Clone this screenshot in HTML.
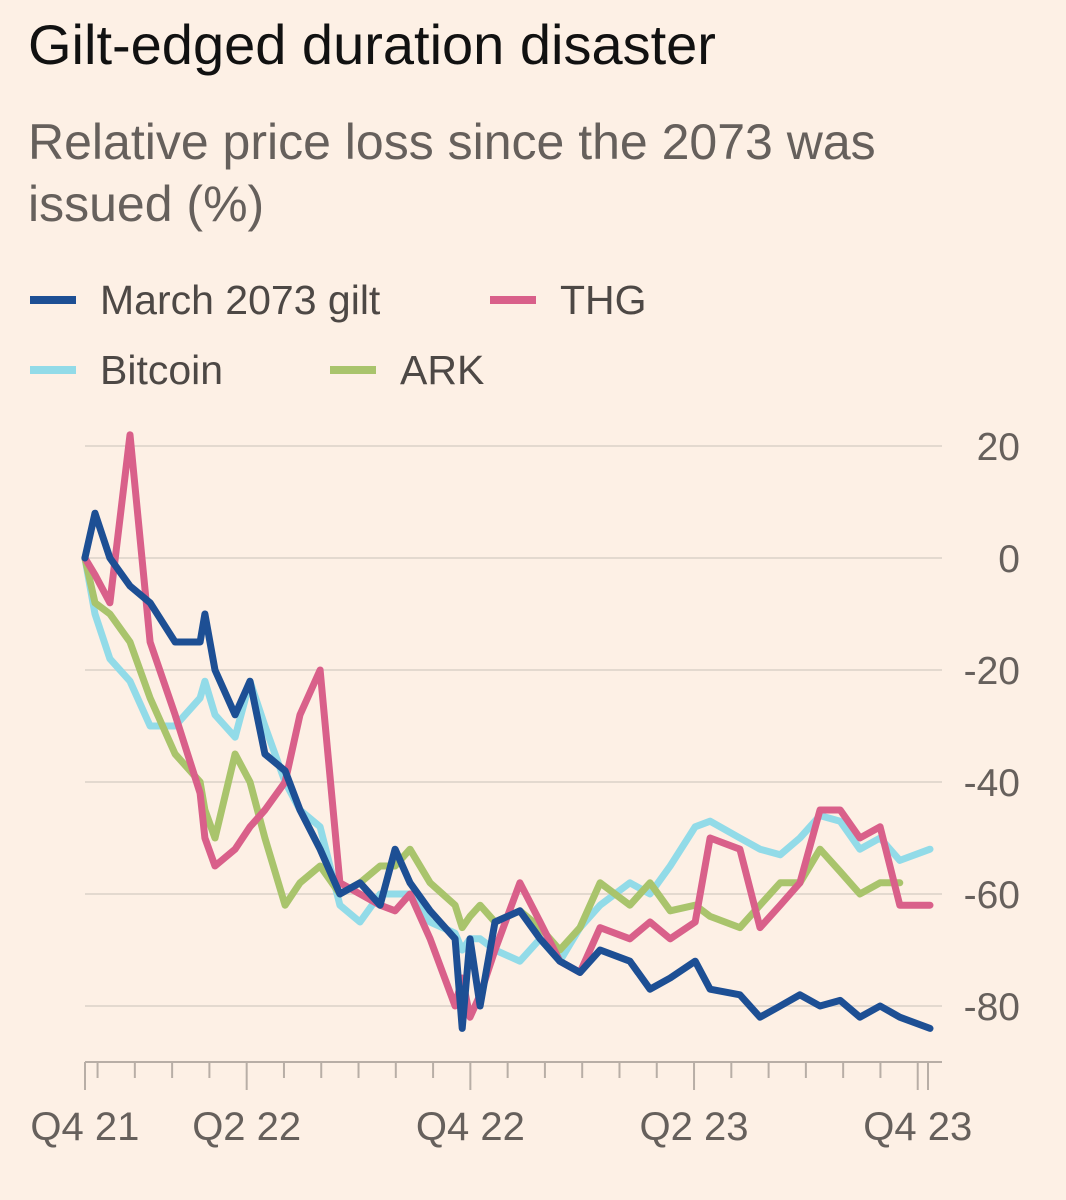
<!DOCTYPE html>
<html><head><meta charset="utf-8">
<style>
body{margin:0;background:#fdf0e5;width:1066px;height:1200px;overflow:hidden;font-family:"Liberation Sans",sans-serif;}
#title{position:absolute;left:28px;top:12px;font-size:56px;color:#111;white-space:nowrap;}
#sub{position:absolute;left:28px;top:111px;font-size:50px;line-height:62px;color:#66605c;width:1040px;}
svg{position:absolute;left:0;top:0;}
</style></head><body>
<div id="title">Gilt-edged duration disaster</div>
<div id="sub">Relative price loss since the 2073 was<br>issued (%)</div>
<svg id="chart" width="1066" height="1200"></svg>
<script>
// months since 1 Oct 2021
const dates=[1.66,1.93,2.33,2.87,3.41,4.08,4.75,4.88,5.15,5.69,6.09,6.49,7.03,7.43,7.97,8.5,9.04,9.58,9.98,10.38,10.92,11.59,11.78,11.99,12.26,12.66,13.33,13.87,14.4,14.94,15.48,16.28,16.82,17.36,18.03,18.43,19.23,19.77,20.31,20.84,21.38,21.92,22.45,22.99,23.52,24.33];
const gilt=[0,8,0,-5,-8,-15,-15,-10,-20,-28,-22,-35,-38,-45,-52,-60,-58,-62,-52,-58,-63,-68,-84,-68,-80,-65,-63,-68,-72,-74,-70,-72,-77,-75,-72,-77,-78,-82,-80,-78,-80,-79,-82,-80,-82,-84];
const thg=[0,-3,-8,22,-15,-28,-42,-50,-55,-52,-48,-45,-40,-28,-20,-58,-60,-62,-63,-60,-68,-80,-75,-82,-78,-70,-58,-65,-72,-74,-66,-68,-65,-68,-65,-50,-52,-66,-62,-58,-45,-45,-50,-48,-62,-62];
const bitcoin=[0,-10,-18,-22,-30,-30,-25,-22,-28,-32,-22,-30,-40,-45,-48,-62,-65,-60,-60,-60,-65,-67,-70,-68,-68,-70,-72,-68,-72,-66,-62,-58,-60,-55,-48,-47,-50,-52,-53,-50,-46,-47,-52,-50,-54,-52];
const ark=[0,-8,-10,-15,-25,-35,-40,-45,-50,-35,-40,-50,-62,-58,-55,-60,-58,-55,-55,-52,-58,-62,-66,-64,-62,-65,-63,-66,-70,-66,-58,-62,-58,-63,-62,-64,-66,-62,-58,-58,-52,-56,-60,-58,-58,null];
const yTicks=[20,0,-20,-40,-60,-80];
const xLabels=["Q4 21","Q2 22","Q4 22","Q2 23","Q4 23"];
const xLabelMonths=[1.66,6,12,18,24];
const NS="http://www.w3.org/2000/svg";
const svg=document.getElementById('chart');
const X=m=>23+m*37.28;
const Y=v=>558-v*5.6;
function el(t,a){const e=document.createElementNS(NS,t);for(const k in a)e.setAttribute(k,a[k]);svg.appendChild(e);return e;}
yTicks.forEach(v=>{
  const l=el('line',{x1:85,x2:942,y1:Y(v),y2:Y(v),stroke:'#e3d9cf','stroke-width':2});
  
  
  const t=el('text',{x:1020,y:Y(v)+14,'text-anchor':'end','font-size':39,fill:'#66605c'});
  t.textContent=v;
  
  
});
const ax=el('line',{x1:85,x2:942,y1:1062,y2:1062,stroke:'#b8aea6','stroke-width':2});


for(let m=2;m<=24;m++){
  const big=(m%6===0);
  const tk=el('line',{x1:X(m),x2:X(m),y1:1062,y2:big?1090:1078,stroke:'#b8aea6','stroke-width':2});
  
  
}
[[85,1090],[928,1090]].forEach(p=>{const tk=el('line',{x1:p[0],x2:p[0],y1:1062,y2:p[1],stroke:'#b8aea6','stroke-width':2});});
xLabels.forEach((s,i)=>{
  const t=el('text',{x:X(xLabelMonths[i]),y:1140,'text-anchor':'middle','font-size':40,fill:'#66605c'});
  t.textContent=s;
  
  
});
function line(vals,color,name){
  let d='';vals.forEach((v,i)=>{if(v===null)return;d+=(d?'L':'M')+X(dates[i]).toFixed(1)+','+Y(v).toFixed(1);});
  const p=el('path',{d:d,fill:'none',stroke:color,'stroke-width':7,'stroke-linejoin':'round','stroke-linecap':'round'});
  
  
}
line(bitcoin,'#92dbe8','series-bitcoin');
line(ark,'#a9c46c','series-ark');
line(thg,'#d9608a','series-thg');
line(gilt,'#1d4f94','series-gilt');
const leg=[['March 2073 gilt','#1d4f94',30,300],['THG','#d9608a',490,300],['Bitcoin','#92dbe8',30,370],['ARK','#a9c46c',330,370]];
leg.forEach(l=>{
  const r=el('rect',{x:l[2],y:l[3]-4,width:46,height:8,fill:l[1]});
  
  
  const t=el('text',{x:l[2]+70,y:l[3]+14,'font-size':41,fill:'#4d4845'});
  t.textContent=l[0];
  
  
});
</script>
</body></html>
